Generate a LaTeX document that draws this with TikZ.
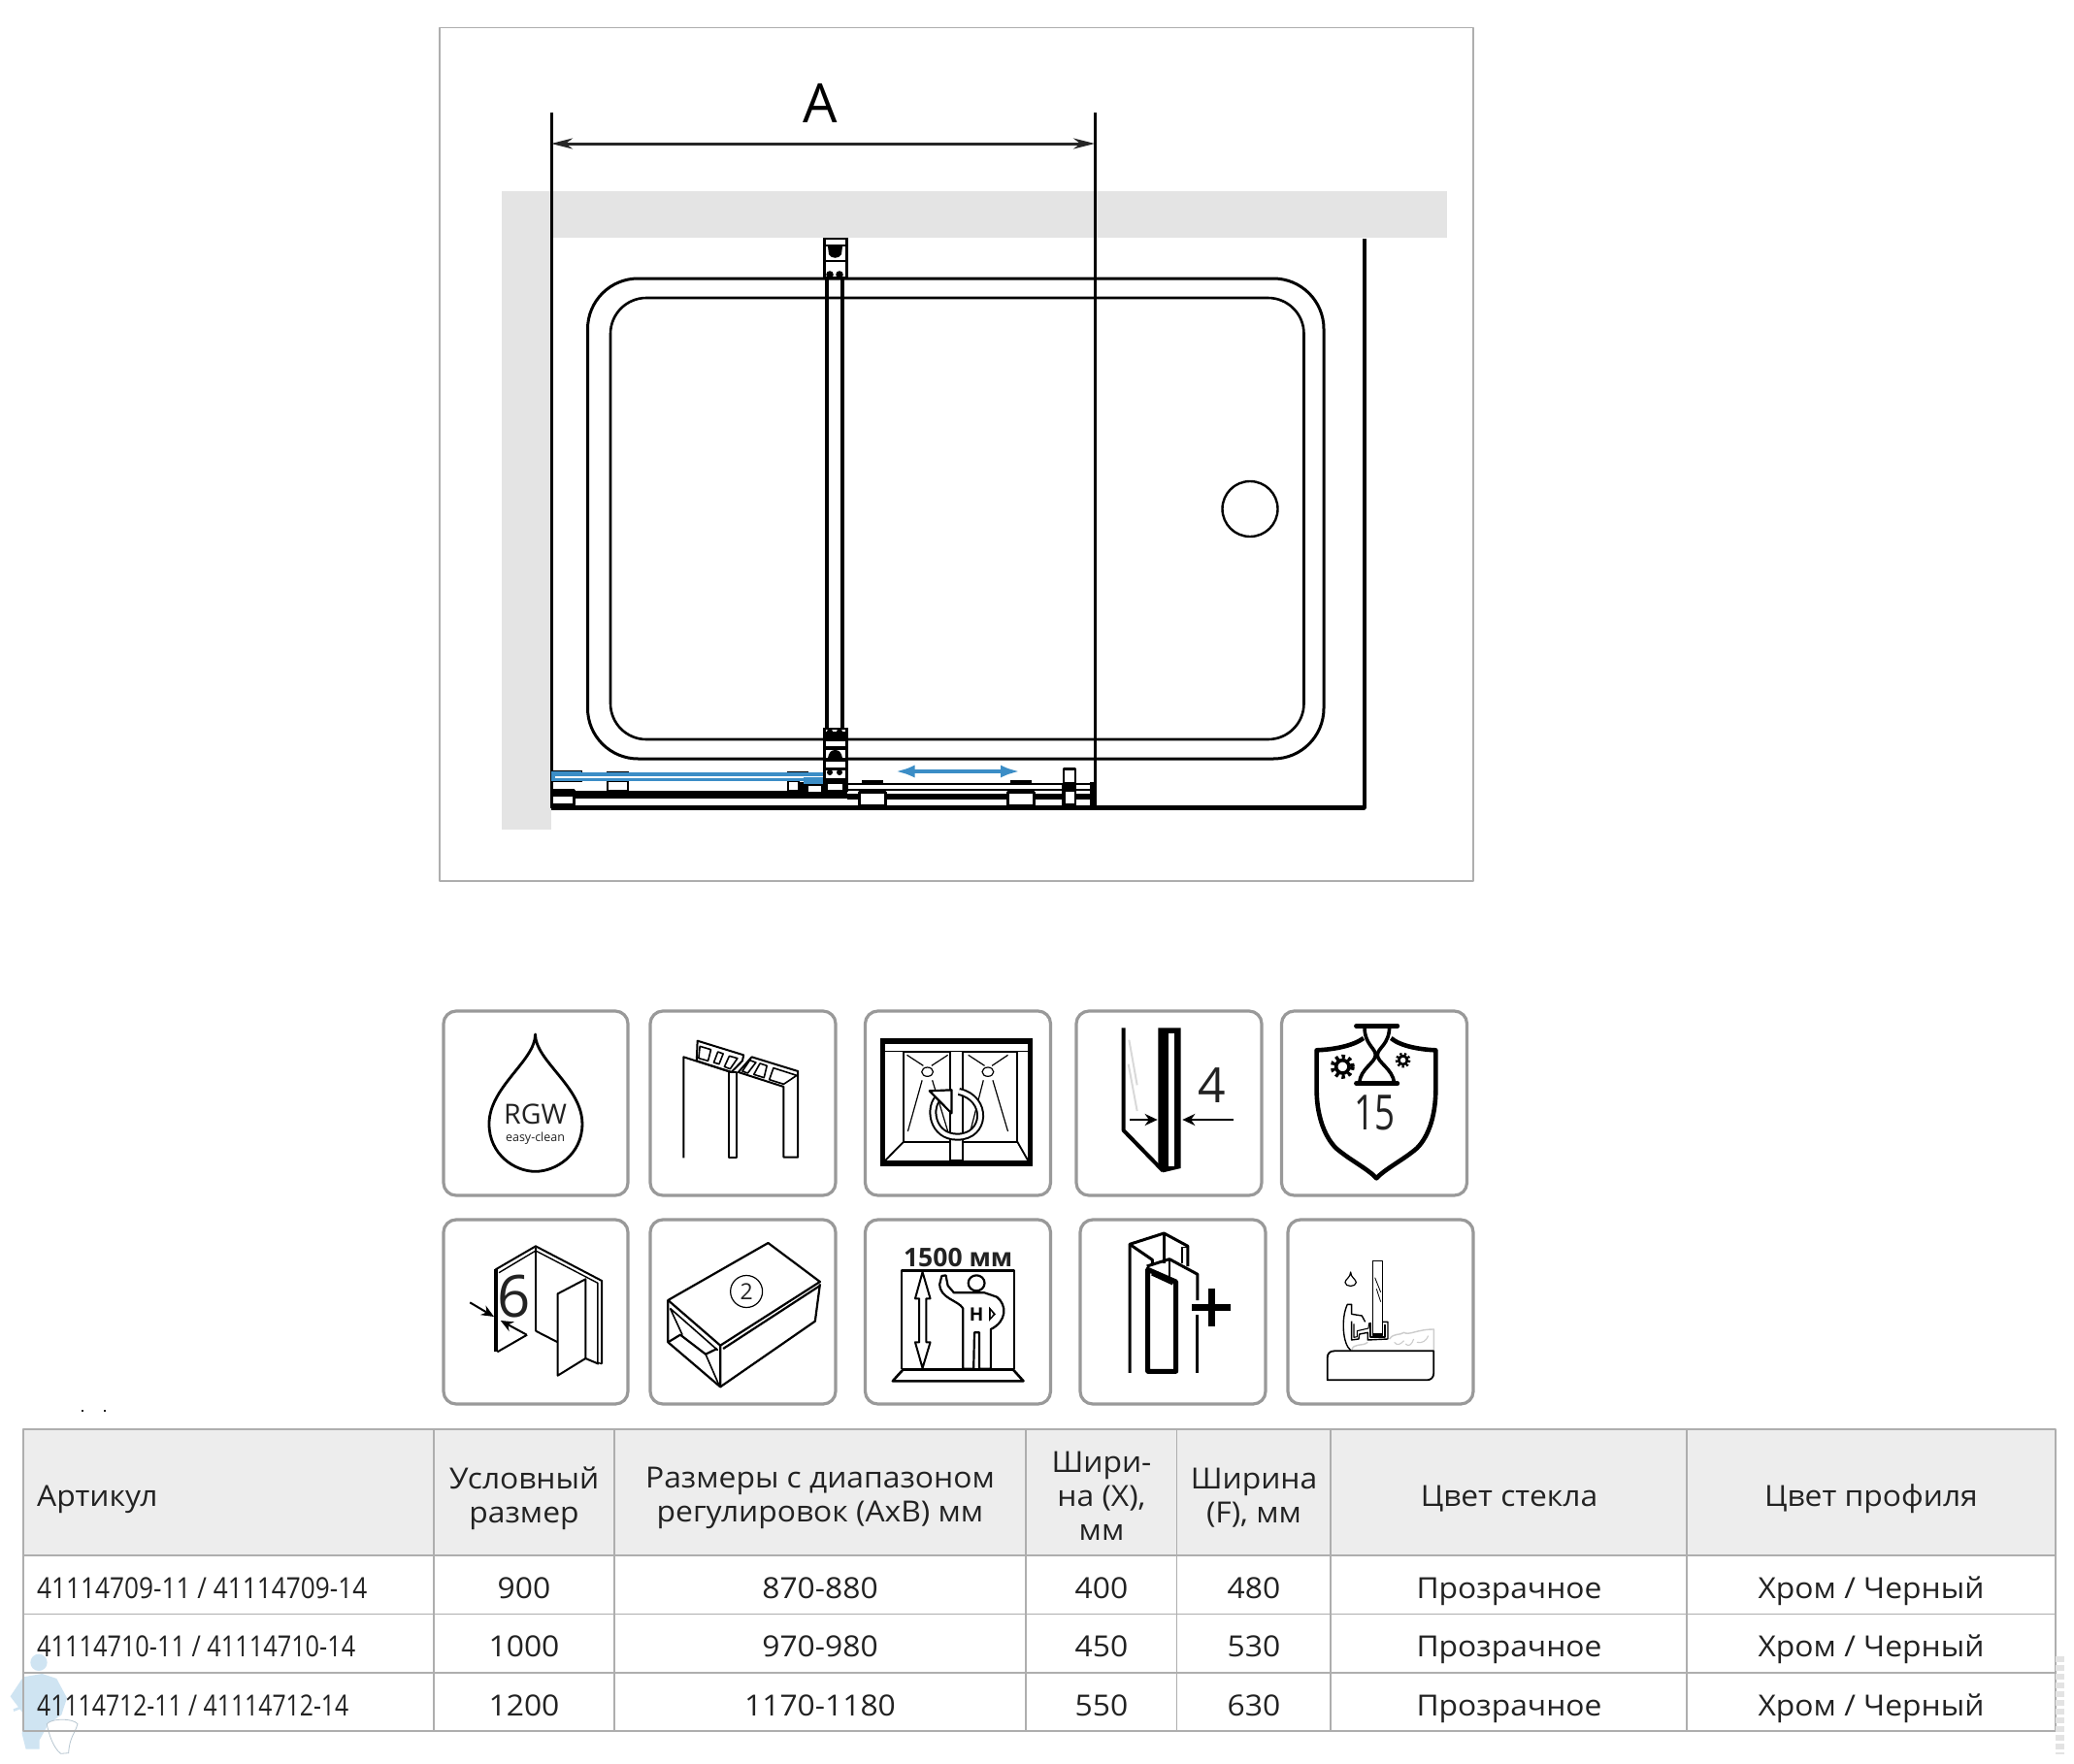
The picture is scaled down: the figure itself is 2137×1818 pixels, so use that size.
\documentclass[tikz,border=0pt]{standalone}
\usepackage{graphicx}
\usepackage{fontspec}
\setmainfont[FakeStretch=1.06]{Open Sans}
\newfontfamily\iconfont{Open Sans}
\usetikzlibrary{arrows.meta}
\definecolor{wallgray}{HTML}{E4E4E4}
\definecolor{headgray}{HTML}{EDEDED}
\definecolor{linegray}{HTML}{AEAEAE}
\definecolor{iconline}{HTML}{999999}
\definecolor{bluearr}{HTML}{3B8DC6}
\definecolor{ink}{HTML}{222222}
\definecolor{plumber}{HTML}{CFE4F2}
\newcommand{\fs}[1]{\fontsize{#1}{#1}\selectfont}
\newcommand{\st}{\rule[-6pt]{0pt}{26pt}}
\tikzset{
  x=1pt,y=-1pt,
  iconbox/.style={draw=iconline,line width=3.2pt,rounded corners=13pt,fill=white},
  tbl/.style={draw=linegray,line width=1.2pt},
  cellt/.style={text=ink,font=\fontsize{30}{35}\selectfont,align=center,inner sep=0pt,anchor=center},
  trk/.style={line width=2.6pt,black},
  ic/.style={line width=2pt,black,line join=round},
  dimarr/.style={line width=3pt,{Stealth[length=22pt,width=11pt]}-{Stealth[length=22pt,width=11pt]},black!85},
}
\begin{document}
\begin{tikzpicture}[line join=round]
\useasboundingbox (0,0) rectangle (2137,1818);
\fill[white] (0,0) rectangle (2137,1818);
% ---- plan panel
\draw[draw=linegray,line width=1.4pt] (453,28.5) rectangle (1518,908);
\fill[wallgray] (517,197) rectangle (1491,245);
\fill[wallgray] (517,197) rectangle (568,855);
\draw[line width=3pt,black] (568,116) -- (568,833);
\draw[line width=3pt,black] (1128,116) -- (1128,833);
\coordinate (dl) at (568,148);
\coordinate (dr) at (1128,148);
\draw[dimarr] (dl) -- (dr);
\node[text=black,font=\iconfont\fs{56},inner sep=0pt] (lblA) at (845,106) {A};
\draw[line width=3.6pt,black] (1406,246) -- (1406,833) -- (568,833);
% tray
\draw[line width=3pt,black,rounded corners=52pt] (605.5,287) rectangle (1364,782);
\draw[line width=2.6pt,black,rounded corners=37pt] (629,307) rectangle (1343.5,762);
\node[circle,draw=black,line width=2.4pt,minimum size=57pt,inner sep=0pt] (drain) at (1288,524.5) {};
% vertical strut
\draw[line width=4pt,black] (852,288) -- (852,750);
\draw[line width=4pt,black] (868,288) -- (868,750);
% top bracket
\fill[black] (848,245) rectangle (873.5,288);
\fill[white] (851,247) rectangle (870.5,252);
\fill[white] (851,254) rectangle (870.5,268);
\fill[black] (853,254) -- (868,254) -- (867,262) .. controls (865,267) and (856,267) .. (854,262) -- cycle;
\fill[white] (851,270) rectangle (870.5,285);
\fill[black] (855,283) circle[radius=3.8];
\fill[black] (865,283) circle[radius=3.8];
% bottom bracket
\fill[black] (848,750) rectangle (873.5,816);
\fill[white] (851,752) rectangle (870.5,754);
\fill[black] (855,754) circle[radius=3];
\fill[black] (865,754) circle[radius=3];
\fill[white] (851,763.5) rectangle (870.5,768.5);
\fill[white] (851,773) rectangle (870.5,780.5);
\fill[black] (853,781) .. controls (854,775) and (857,773) .. (860.5,773) .. controls (864,773) and (867,775) .. (868,781) -- cycle;
\fill[white] (851,785) rectangle (870.5,791);
\fill[white] (851,793.5) rectangle (870.5,802);
\fill[black] (855,796) circle[radius=3];
\fill[black] (865,796) circle[radius=3];
\fill[white] (853,808) rectangle (868,814);
% track
\fill[black] (568,815) rectangle (873,823);
\fill[white] (568,824) rectangle (1127,829);
\fill[black] (568,830) rectangle (1406,835);
\fill[black] (873,806.5) rectangle (1128,809);
\fill[black] (873,813) rectangle (1128,814.5);
\fill[black] (873,818) rectangle (1128,823.5);
\fill[black] (1123,806) rectangle (1130,832);
% left end
\draw[black,line width=3pt,fill=white] (568,814) rectangle (591,829);
\fill[black] (568,814) rectangle (591,821);
% rollers left
\draw[trk,fill=white] (626,805) rectangle (647,815);
\draw[trk,fill=white] (812,805) rectangle (823,815);
\fill[black] (625,795) rectangle (648,800);
\fill[black] (811,795) rectangle (833,800);
\fill[black] (568,794) rectangle (600,806);
\fill[black] (824,806) rectangle (848,816);
\fill[white] (833,810) rectangle (846,816);
% big rollers on track
\draw[line width=3pt,black,fill=white] (885,816.5) rectangle (912,830);
\draw[line width=3pt,black,fill=white] (1038,816.5) rectangle (1065,830);
\fill[black] (888,804) rectangle (910,808);
\fill[black] (1041,804) rectangle (1063,808);
% small stop
\draw[line width=2.6pt,black,fill=white] (1096,792.5) rectangle (1108,807);
\fill[black] (1094,809) rectangle (1109,830);
\fill[white] (1097.5,816) rectangle (1106.5,828);
% blue glass
\draw[line width=3.2pt,bluearr] (568,798) -- (848,798);
\draw[line width=3.2pt,bluearr] (568,803.5) -- (848,803.5);
\fill[bluearr] (568,795) rectangle (599,805);
\fill[white] (572,799.6) rectangle (845,801.8);
\fill[bluearr] (828,801) rectangle (848,808);
% blue arrow
\coordinate (bl) at (922.5,795);
\coordinate (br) at (1051,795);
\draw[line width=4pt,bluearr,{Latex[length=20pt,width=13pt]}-{Latex[length=20pt,width=13pt]}] (bl) -- (br);
% ---- icon boxes
\foreach \xa/\xb in {457/647,670/861,891.5/1082.5,1109/1300,1320.5/1511.5}
  \draw[iconbox] (\xa,1042) rectangle (\xb,1232);
\foreach \xa/\xb in {457/647,670/861,891.5/1082.5,1113/1304,1327/1518}
  \draw[iconbox] (\xa,1257) rectangle (\xb,1447);
% ---- row 1, zoom coordinates
\begin{scope}[shift={(440,1030)},xscale=0.4209,yscale=0.3333]
% drop
\draw[line width=2.8pt,black] (265,108) .. controls (265,190) and (152,270) .. (152,385) .. controls (152,480) and (215,532) .. (265,532) .. controls (315,532) and (380,480) .. (380,385) .. controls (380,270) and (265,190) .. (265,108) -- cycle;
\node[font=\iconfont\fs{28.5},text=ink,inner sep=0pt] at (265,354) {RGW};
\node[font=\iconfont\fs{12.5},text=ink,inner sep=0pt] at (265,430) {easy-clean};
% profile
\draw[ic] (628,490) -- (628,178) -- (745,225);
\draw[ic] (740,225) -- (740,488) -- (757,488) -- (757,225) -- (745,225);
\draw[ic] (662,128) -- (775,172) -- (772,190) -- (745,225) -- (660,190) -- cycle;
\draw[ic] (762,225) -- (795,178) -- (908,222) -- (908,488) -- (873,488) -- (873,270) -- cycle;
\draw[line width=1.6pt,black] (668,145) -- (695,155) -- (688,190) -- (665,182) -- cycle;
\draw[line width=1.6pt,black] (712,162) -- (725,168) -- (715,200) -- (702,195) -- cycle;
\draw[line width=1.6pt,black] (740,175) -- (760,182) -- (742,215) -- (728,208) -- cycle;
\draw[line width=1.6pt,black] (790,188) -- (805,195) -- (785,228) -- (772,222) -- cycle;
\draw[line width=1.6pt,black] (815,198) -- (832,205) -- (825,242) -- (800,232) -- cycle;
\draw[line width=1.6pt,black] (848,212) -- (905,235) -- (873,262) -- (838,248) -- cycle;
% doors with rotation
\draw[line width=5.4pt,black,line join=miter] (1116,127) rectangle (1476,507);
\fill[black] (1110,122) rectangle (1482,138);
\draw[line width=1.6pt,black] (1120,160) -- (1472,160);
\draw[line width=1.8pt,black] (1167,162) rectangle (1280,440);
\draw[line width=1.8pt,black] (1312,162) rectangle (1445,440);
\draw[line width=1.8pt,black] (1280,160) -- (1280,497) -- (1312,497) -- (1312,160);
\draw[line width=1.8pt,black] (1167,440) -- (1120,500);
\draw[line width=1.8pt,black] (1445,440) -- (1472,500);
\draw[line width=1.2pt,black] (1225,224) ellipse[x radius=14,y radius=14];
\draw[line width=1.2pt,black] (1373,224) ellipse[x radius=14,y radius=14];
\draw[line width=1.2pt,black] (1175,172) -- (1215,205) (1275,172) -- (1235,205);
\draw[line width=1.2pt,black] (1325,172) -- (1365,205) (1422,172) -- (1383,205);
\draw[line width=1.2pt,black] (1212,250) -- (1177,408) (1237,250) -- (1275,408);
\draw[line width=1.2pt,black] (1362,250) -- (1330,408) (1385,250) -- (1422,408);
\draw[line width=8pt,black] (1255,300) .. controls (1225,330) and (1235,425) .. (1298,425) .. controls (1370,425) and (1375,305) .. (1302,285);
\draw[line width=4pt,white] (1255,300) .. controls (1225,330) and (1235,425) .. (1298,425) .. controls (1370,425) and (1375,305) .. (1302,285);
\draw[line width=2.2pt,black,fill=white] (1230,283) -- (1284,280) -- (1284,352) -- cycle;
\end{scope}
\begin{scope}[shift={(1090,1030)},scale=0.3333]
% thickness 4
\draw[line width=4pt,black] (203,88) -- (203,405) -- (325,530);
\draw[line width=2pt,gray!30] (220,125) -- (245,265);
\draw[line width=2pt,gray!30] (218,200) -- (245,345);
\fill[black] (310,88) -- (380,88) -- (380,522) -- (325,535) -- (310,520) -- cycle;
\fill[white] (343,105) rectangle (360,515);
\node[font=\iconfont\fs{50},text=ink,inner sep=0pt] at (476,265) {4};
\draw[line width=2.4pt,black,-{Stealth[length=13pt,width=12pt]}] (222,372) -- (308,372);
\draw[line width=2.4pt,black,-{Stealth[length=13pt,width=12pt]}] (542,372) -- (385,372);
% shield
\draw[line width=4.6pt,black] (945,120) .. controls (910,145) and (850,155) .. (800,157) -- (800,280) .. controls (800,350) and (820,420) .. (860,460) .. controls (900,495) and (960,525) .. (985,553) .. controls (1010,525) and (1070,495) .. (1110,460) .. controls (1150,420) and (1168,350) .. (1168,280) -- (1168,157) .. controls (1120,155) and (1060,145) .. (1030,120);
\draw[line width=4.4pt,black,line cap=round] (922,82) -- (1050,82);
\draw[line width=4.4pt,black,line cap=round] (922,260) -- (1050,260);
\draw[line width=3.6pt,black] (948,84) .. controls (948,140) and (982,150) .. (982,172) .. controls (982,195) and (935,215) .. (932,258);
\draw[line width=3.6pt,black] (1025,84) .. controls (1025,140) and (988,150) .. (988,172) .. controls (988,195) and (1035,215) .. (1040,258);
\draw[line width=3.6pt,black] (880,208) circle[radius=20];
\draw[line width=4.4pt,black,dash pattern=on 3.4pt off 3.4pt] (880,208) circle[radius=31];
\draw[line width=2.6pt,black] (1067,188) circle[radius=13];
\draw[line width=3pt,black,dash pattern=on 2.2pt off 2.2pt] (1067,188) circle[radius=19];
\node[font=\iconfont\fs{50},text=ink,inner sep=0pt] at (980,352) {\resizebox{42pt}{\height}{15}};
\end{scope}
% ---- row 2
\begin{scope}[shift={(440,1245)},xscale=0.4209,yscale=0.3333]
% wall panel 6
\draw[line width=3.6pt,black] (168,190) -- (168,445);
\draw[ic] (168,190) -- (266,118) -- (428,225) -- (428,482);
\draw[line width=1.4pt,black] (176,200) -- (266,132) -- (418,232) -- (418,478) -- (428,482);
\draw[ic] (266,122) -- (266,380);
\draw[ic] (172,445) -- (245,392);
\draw[ic] (266,380) -- (320,415);
\draw[ic] (320,265) -- (388,220) -- (388,465) -- (320,518) -- cycle;
\draw[ic] (388,465) -- (420,482);
\node[font=\iconfont\fs{60},text=ink,inner sep=0pt] at (214,272) {6};
\draw[line width=2pt,black,-{Stealth[length=13pt,width=11pt]}] (105,292) -- (164,336);
\draw[line width=2pt,black,-{Stealth[length=13pt,width=11pt]}] (244,392) -- (180,348);
% box
\draw[line width=2.2pt,black] (590,285) -- (835,108) -- (962,228) -- (718,425) -- cycle;
\draw[line width=2.2pt,black] (590,285) -- (590,415) -- (718,553) -- (718,425);
\draw[line width=2.2pt,black] (718,553) -- (950,350) -- (962,235);
\draw[line width=2.2pt,black] (725,435) -- (962,240);
\draw[line width=2.2pt,black] (590,415) -- (620,392) -- (682,452) -- (710,435);
\draw[line width=1.6pt,black] (595,310) -- (625,392) (682,452) -- (714,545) (595,310) -- (712,440);
\node[circle,draw=black,line width=1.2pt,minimum size=33pt,inner sep=0pt,font=\iconfont\fs{23},text=ink] at (782,258) {2};
% 1500
\node[font=\iconfont\bfseries\fs{26.5},text=ink,inner sep=0pt] at (1300,152) {1500 мм};
\draw[line width=2.6pt,black] (1162,497) -- (1162,193) -- (1437,193) -- (1437,497);
\draw[line width=2.6pt,black] (1140,535) -- (1165,500) -- (1435,500) -- (1460,535) -- cycle;
\fill[black] (1162,495) rectangle (1437,505);
\draw[line width=2pt,black] (1213,198) -- (1195,280) -- (1205,280) -- (1205,415) -- (1195,415) -- (1213,495) -- (1232,415) -- (1222,415) -- (1222,280) -- (1232,280) -- cycle;
\draw[line width=2.2pt,black] (1345,232) ellipse[x radius=20,y radius=24];
\draw[line width=2.2pt,black] (1260,210) -- (1255,235) .. controls (1255,280) and (1300,285) .. (1312,310) -- (1312,497) -- (1338,497) -- (1340,385) -- (1352,385) -- (1352,497) -- (1380,497) -- (1380,375) .. controls (1420,350) and (1420,300) .. (1395,275) -- (1365,262) -- (1290,262) -- (1275,240) -- (1270,208) -- cycle;
\node[font=\iconfont\bfseries\fs{19},text=black,inner sep=0pt] at (1345,328) {H};
\fill[black] (1376,305) -- (1392,328) -- (1376,350) -- cycle;
\fill[white] (1380,318) -- (1386,328) -- (1380,338) -- cycle;
\end{scope}
\begin{scope}[shift={(1090,1245)},scale=0.3333]
% double profile
\draw[line width=3pt,black] (222,510) -- (222,112) -- (328,78) -- (402,118) -- (402,180);
\draw[line width=3pt,black] (222,112) -- (292,160) -- (292,175);
\draw[line width=2.6pt,black] (328,78) -- (328,170);
\draw[line width=1.6pt,black] (384,170) -- (384,122) -- (400,122);
\draw[line width=3pt,black] (275,180) -- (345,158) -- (432,205) -- (432,285);
\draw[line width=3pt,black] (432,330) -- (432,510);
\draw[line width=2.6pt,black] (345,158) -- (345,225);
\draw[line width=5pt,black] (278,505) -- (278,190) -- (365,228) -- (365,505) -- cycle;
\draw[line width=2.4pt,black] (290,205) -- (355,235);
\fill[black] (415,298) rectangle (533,318);
\fill[black] (465,248) rectangle (485,367);
% seal
\draw[line width=1.2pt,black] (905,198) .. controls (905,215) and (888,220) .. (888,230) .. controls (888,245) and (922,245) .. (922,230) .. controls (922,220) and (905,215) .. (905,198) -- cycle;
\draw[line width=1.4pt,gray!40] (908,440) .. controls (915,415) and (940,430) .. (958,415) (1025,405) .. controls (1040,385) and (1055,395) .. (1070,385) .. controls (1085,395) and (1110,375) .. (1162,375) -- (1162,440);
\draw[line width=1.1pt,gray!40] (1040,415) .. controls (1050,428) and (1060,420) .. (1070,410) (1075,420) .. controls (1085,432) and (1095,420) .. (1100,405) (1110,415) .. controls (1125,420) and (1140,410) .. (1145,395);
\draw[line width=1.2pt,black,fill=white] (973,163) rectangle (1003,395);
\draw[line width=0.8pt,black] (980,215) -- (998,260) (985,250) -- (998,290);
\draw[line width=1.4pt,black] (905,440) .. controls (880,420) and (875,340) .. (895,298) -- (908,298) -- (908,328) -- (940,333) -- (950,352);
\draw[line width=1.4pt,black] (908,350) -- (908,408) -- (930,405) -- (932,390) -- (958,385) -- (958,408) -- (1020,405) -- (1020,352) -- (1003,352);
\draw[line width=1.1pt,black] (915,358) -- (915,400) -- (925,398) -- (925,380) -- (960,372) -- (962,355);
\draw[line width=1.8pt,black] (965,355) -- (965,400) -- (1012,400) -- (1012,360);
\draw[line width=1.2pt,black] (973,390) -- (1003,390);
\draw[line width=1.8pt,black] (833,532) -- (833,465) .. controls (833,450) and (840,442) .. (855,442) -- (1162,442) -- (1162,510) .. controls (1162,525) and (1152,532) .. (1140,532) -- cycle;
\end{scope}
% stray marks above the table
\fill[ink] (84,1453) rectangle (86,1455);
\fill[ink] (107,1453) rectangle (109,1455);
% ---- table
\fill[headgray] (24,1473) rectangle (2118,1603);
% plumber mark
\begin{scope}[shift={(0,1680)},scale=0.3333]
\fill[plumber] (120,100) circle[radius=26];
\fill[plumber] (72,145) -- (130,135) -- (175,150) -- (207,210) -- (190,262) -- (150,290) -- (122,340) -- (122,368) -- (80,368) -- (68,320) -- (75,262) -- (32,205) -- cycle;
\draw[line width=2.6pt,plumber] (42,248) -- (125,215);
\draw[line width=0.8pt,plumber!70!gray,fill=white] (145,290) .. controls (160,272) and (225,272) .. (240,290) .. controls (232,320) and (215,330) .. (212,380) -- (188,382) .. controls (165,365) and (150,320) .. (145,290) -- cycle;
\end{scope}
\draw[tbl] (24,1473) rectangle (2118,1784);
\draw[tbl] (24,1603) -- (2118,1603);
\draw[tbl] (24,1663.5) -- (2118,1663.5);
\draw[tbl] (24,1724) -- (2118,1724);
\foreach \x in {447,633,1057,1212.5,1371,1738}
  \draw[tbl] (\x,1473) -- (\x,1784);
% faint mark at right edge
\draw[line width=9pt,gray!22,dash pattern=on 6pt off 3pt] (2122,1707) -- (2122,1808);
\node[cellt,anchor=west] (art) at (38,1545) {\st Артикул};
\node[cellt] (h1) at (540,1544) {\st Условный\\\st размер};
\node[cellt] (h2) at (845,1544) {\st Размеры с диапазоном\\\st регулировок (АхВ) мм};
\node[cellt] (h3) at (1135,1545) {\st Шири-\\\st на (X),\\\st мм};
\node[cellt] (h4) at (1292,1544) {\st Ширина\\\st (F), мм};
\node[cellt] (h5) at (1555,1545) {\st Цвет стекла};
\node[cellt] (h6) at (1928,1545) {\st Цвет профиля};
\foreach \y/\art/\wdt/\sz/\rng/\xx/\ff in {
  1640/{41114709-11 / 41114709-14}/340/900/870-880/400/480,
  1700/{41114710-11 / 41114710-14}/328/1000/970-980/450/530,
  1761/{41114712-11 / 41114712-14}/321/1200/1170-1180/550/630}{
  \node[cellt,anchor=west] at (38,\y) {\st\resizebox{\wdt pt}{\height}{\art}};
  \node[cellt] at (540,\y) {\st\sz};
  \node[cellt] at (845,\y) {\st\rng};
  \node[cellt] at (1135,\y) {\st\xx};
  \node[cellt] at (1292,\y) {\st\ff};
  \node[cellt] at (1555,\y) {\st Прозрачное};
  \node[cellt] at (1928,\y) {\st Хром / Черный};
}
\end{tikzpicture}
\end{document}
